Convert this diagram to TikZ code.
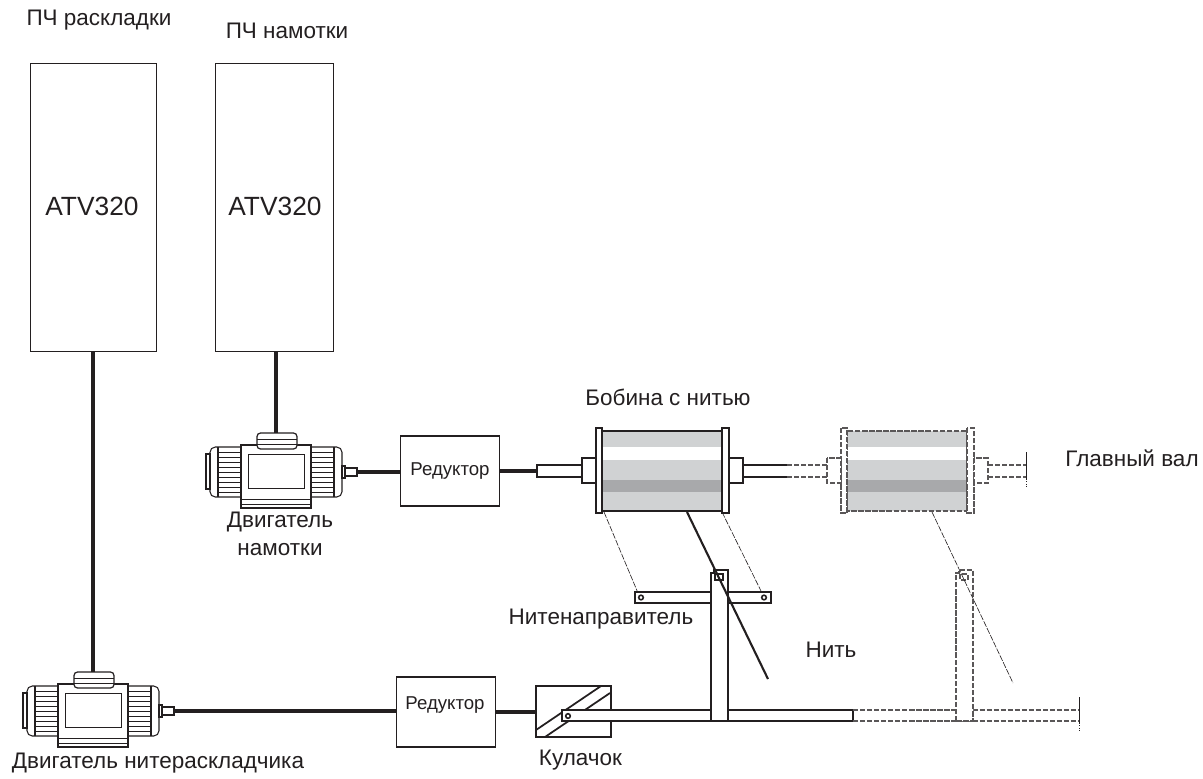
\documentclass[tikz,border=0pt]{standalone}
\usepackage{fontspec}
\setmainfont{Liberation Sans}
\definecolor{spool}{HTML}{D0D2D3}
\definecolor{spoolDark}{HTML}{A8A9AB}
\definecolor{ink}{HTML}{231F20}
\tikzset{
  lbl/.style={font=\fontsize{12.8}{16}\selectfont, text=ink, inner sep=0pt, align=center},
  drive/.style={draw=ink, line width=0.5pt, minimum height=5.76cm},
  reducer/.style={draw=ink, line width=1pt, fill=white, minimum width=1.98cm, minimum height=1.4cm},
  redtext/.style={font=\fontsize{10.6}{13}\selectfont, text=ink, inner sep=0pt},
  atvtext/.style={font=\fontsize{15}{18}\selectfont, text=ink, inner sep=0pt},
  power/.style={draw=ink, line width=2pt},
  part/.style={draw=ink, line width=1pt},
  ghost/.style={draw=ink!75, line width=0.6pt, dash pattern=on 3pt off 1pt},
  tiedash/.style={draw=ink, line width=0.35pt, dash pattern=on 3.5pt off 0.8pt},
  pics/motor/.style={code={
    % корпус и рёбра
    \draw[ink, line width=0.6pt, fill=white, rounded corners=3pt] (-35,-24) -- (-66,-24) -- (-66,26) -- (-35,26);
    \draw[ink, line width=0.6pt, fill=white, rounded corners=3pt] (35,-24) -- (66,-24) -- (66,26) -- (35,26);
    \foreach \fy in {-19,-14,...,21} {
      \draw[ink, line width=0.4pt] (-58,\fy) -- (-35,\fy) (35,\fy) -- (58,\fy);
    }
    \draw[ink, line width=0.6pt] (-58,-24) -- (-58,26) (58,-24) -- (58,26);
    \draw[ink, line width=0.6pt, fill=white] (-70,-17) rectangle (-66,18);
    \draw[ink, line width=0.6pt, fill=white] (66,-5) rectangle (69,7);
    \draw[ink, line width=0.6pt, fill=white] (69,-3) rectangle (81,5);
    % коробка и лапа
    \draw[ink, line width=0.7pt, fill=white] (-35,-26) rectangle (35,37);
    \draw[ink, line width=0.5pt] (-35,28) -- (35,28) (-35,33) -- (35,33);
    \draw[ink, line width=0.5pt] (-28,-17) rectangle (28,17);
    \draw[ink, line width=0.7pt, fill=white, rounded corners=2pt] (-19,-38) rectangle (21,-22);
    \draw[ink, line width=0.5pt] (-19,-32) -- (21,-32) (-19,-27) -- (21,-27);
    \coordinate (-top) at (0,-38);
    \coordinate (-shaft) at (81,1);
  }},
  pics/bobbin/.style={code={
    \fill[spool] (-60,-40) rectangle (60,40);
    \fill[white] (-60,-24) rectangle (60,-11);
    \fill[spoolDark] (-60,9) rectangle (60,21);
    \draw[#1] (-60,-40) rectangle (60,40);
    \draw[#1, fill=white] (-66,-43) rectangle (-60,42);
    \draw[#1, fill=white] (60,-43) rectangle (67,42);
    \draw[#1, fill=white] (-80,-13) rectangle (-66,12);
    \draw[#1, fill=white] (67,-13) rectangle (81,12);
  }}
}
\begin{document}
\begin{tikzpicture}[x=0.02cm, y=-0.02cm]
  \useasboundingbox (0,0) rectangle (1203,778);

  % преобразователи
  \node[drive, minimum width=2.52cm] (drvTraverse) at (93,207) {};
  \node[drive, minimum width=2.36cm] (drvWinding) at (274,207) {};
  \node[atvtext] (atvTraverse) at (92,206) {ATV320};
  \node[atvtext] (atvWinding) at (275,206) {ATV320};
  \node[lbl] (lblTraverse) at (99,20) {ПЧ раскладки};
  \node[lbl] (lblWinding) at (287,31) {ПЧ намотки};

  % двигатели
  \pic (motorWinding) at (276,471) {motor};
  \pic (motorTraverse) at (93,710) {motor};
  \draw[power] (drvWinding.south -| motorWinding-top) -- (motorWinding-top);
  \draw[power] (drvTraverse.south -| motorTraverse-top) -- (motorTraverse-top);
  \node[lbl] (lblMotorW) at (280,534) {Двигатель\\намотки};
  \node[lbl] (lblMotorT) at (158,763) {Двигатель нитераскладчика};

  % редукторы
  \node[reducer] (redWinding) at (450,471) {};
  \node[reducer] (redTraverse) at (446,712) {};
  \node[redtext] (txtWinding) at (450,471) {Редуктор};
  \node[redtext] (txtTraverse) at (445,705) {Редуктор};
  \draw[power] (motorWinding-shaft) -- (motorWinding-shaft -| redWinding.west);
  \draw[power] (motorTraverse-shaft) -- (motorTraverse-shaft -| redTraverse.west);

  % рабочая бобина
  \coordinate (shaftIn) at (537,471);
  \draw[power] (redWinding.east) -- (shaftIn);
  \draw[part, fill=white] (537,465) rectangle (582,477);
  \draw[part] (743,465) -- (787,465) (743,477) -- (787,477);
  \pic at (662,471) {bobbin=part};
  \node[lbl] (lblBobbin) at (668,397) {Бобина с нитью};

  % запасная бобина пунктиром
  \draw[ghost] (787,465) -- (827,465) (787,477) -- (827,477);
  \pic at (907,471) {bobbin=ghost};
  \draw[ghost] (988,465) -- (1026,465) (988,477) -- (1026,477);
  \draw[ink, line width=0.4pt] (1026,452) -- (1026,479);
  \draw[ink, line width=0.4pt, densely dotted] (1026,479) -- (1026,487);
  \node[lbl] (lblShaft) at (1132,458) {Главный вал};

  % кулачок
  \node[draw=ink, line width=0.9pt, minimum width=1.5cm, minimum height=1.02cm, inner sep=0pt] (cam) at (573.5,711.5) {};
  \draw[part] (536,730) -- (601,686) (545,737) -- (610,693);
  \coordinate (camIn) at (cam.west |- 0,712);
  \draw[power] (redTraverse.east |- camIn) -- (camIn);
  \node[lbl] (lblCam) at (580.5,760) {Кулачок};

  % нитенаправитель и тяга
  \draw[tiedash] (604,512) -- (638,593);
  \draw[tiedash] (722,512) -- (762,593);
  \draw[part, fill=white] (635,592) rectangle (771,603);
  \draw[part, fill=white] (562,710) rectangle (853,721);
  \draw[part, fill=white] (711,721) -- (711,573) -- (714,573) -- (714,570) -- (728,570) -- (728,721) -- cycle;
  \draw[part] (715,574) rectangle (723,580);
  \foreach \px/\py in {641/597.5, 764/597.5, 568/716} {
    \draw[ink, line width=0.9pt, fill=white] (\px,\py) circle (2.3);
  }
  \draw[ink, line width=1.2pt] (687,512) -- (768,679);
  \node[lbl] (lblGuide) at (601,619) {Нитенаправитель};
  \node[lbl] (lblThread) at (831,650) {Нить};

  % положение тяги пунктиром
  \draw[ghost] (853,710) -- (1079,710) (853,721) -- (1079,721);
  \draw[ghost, fill=white] (956,721) -- (956,573) -- (959,573) -- (959,570) -- (973,570) -- (973,721) -- cycle;
  \draw[ghost] (960,574) rectangle (968,580);
  \draw[tiedash] (932,512) -- (1013,683);
  \draw[ink, line width=0.4pt] (1079,697) -- (1079,723);
  \draw[ink, line width=0.4pt, densely dotted] (1079,723) -- (1079,732);
\end{tikzpicture}
\end{document}
